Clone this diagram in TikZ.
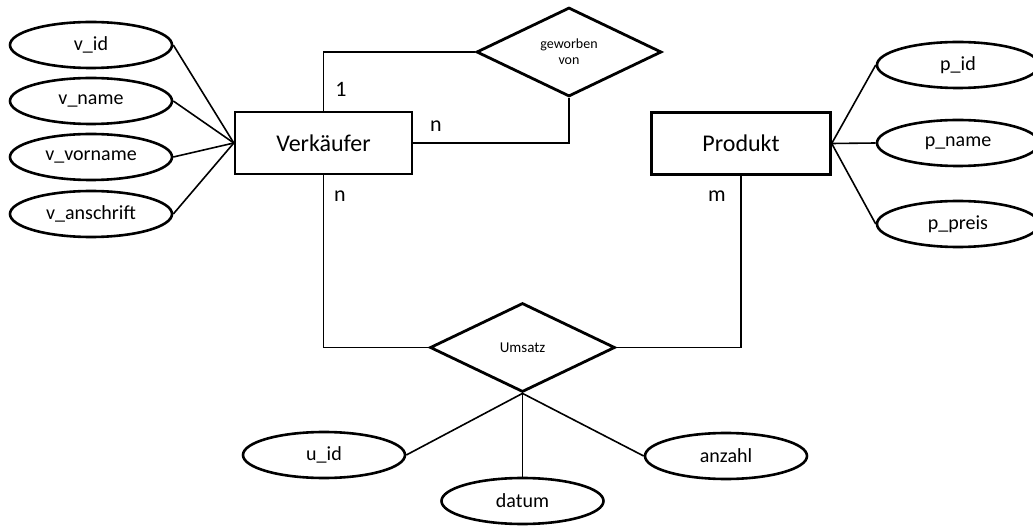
\documentclass[tikz,border=0pt]{standalone}
\usepackage{fontspec}
\setmainfont{Carlito}
\usetikzlibrary{shapes.geometric}
\begin{document}
\begin{tikzpicture}[x=1pt,y=-1pt,
  attr/.style={draw,ellipse,line width=2.6pt,minimum width=162pt,minimum height=46pt,inner sep=0pt,font=\fontsize{20}{23}\selectfont},
  entity/.style={draw,rectangle,line width=2.4pt,minimum width=177pt,minimum height=62pt,inner sep=0pt,font=\fontsize{24}{28}\selectfont},
  rel/.style={draw,diamond,line width=2.8pt,minimum width=185pt,minimum height=89pt,inner sep=0pt,align=center},
  conn/.style={line width=1.6pt},
  card/.style={font=\fontsize{22}{26}\selectfont,inner sep=0pt}]
\useasboundingbox (0,0) rectangle (1033,526);
\clip (0,0) rectangle (1033,526);
% entities
\node[entity] (V) at (323.5,143) {Verkäufer};
\node[entity,minimum width=179pt] (P) at (741,143.5) {Produkt};
% relationships
\node[rel,font=\fontsize{14}{16}\selectfont] (G) at (569,52) {geworben\\von};
\node[rel,font=\fontsize{15}{18}\selectfont] (U) at (522.5,347.5) {Umsatz};
% attributes Verkaeufer
\node[attr] (vid) at (91,45) {v\_id};
\node[attr] (vname) at (91,101) {v\_name};
\node[attr] (vvor) at (91,157) {v\_vorname};
\node[attr] (vans) at (91,214) {v\_anschrift};
% attributes Produkt
\node[attr] (pid) at (958,65) {p\_id};
\node[attr] (pname) at (958,143) {p\_name};
\node[attr] (ppreis) at (958,224) {p\_preis};
% attributes Umsatz
\node[attr] (uid) at (324,455) {u\_id};
\node[attr] (datum) at (522.5,501) {datum};
\node[attr] (anzahl) at (726,456) {anzahl};
% connectors
\foreach \a in {vid,vname,vvor,vans} \draw[conn] (\a.east) -- (V.west);
\foreach \a in {pid,pname,ppreis} \draw[conn] (P.east) -- (\a.west);
\draw[conn] (V.north) |- (G.west);
\draw[conn] (G.south) |- (V.east);
\draw[conn] (V.south) |- (U.west);
\draw[conn] (U.east) -| (P.south);
\draw[conn] (U.south) -- (uid.east);
\draw[conn] (U.south) -- (datum.north);
\draw[conn] (U.south) -- (anzahl.west);
% cardinalities
\node[card] (c1) at (341,89) {1};
\node[card] (c2) at (436,126) {n};
\node[card] (c3) at (340,196) {n};
\node[card] (c4) at (717,196) {m};
\end{tikzpicture}
\end{document}
